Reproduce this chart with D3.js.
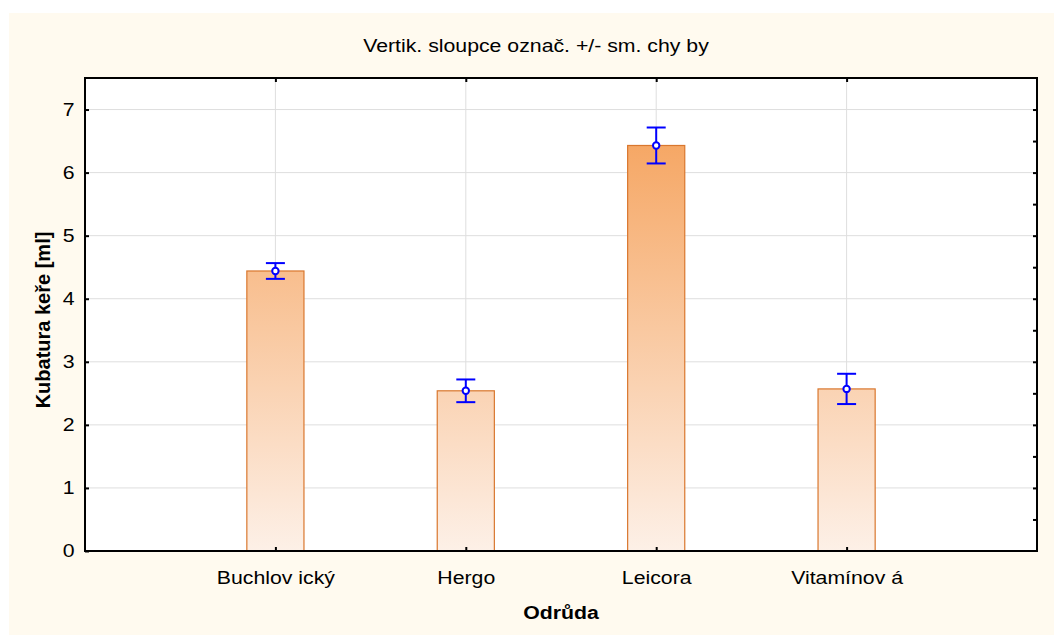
<!DOCTYPE html>
<html>
<head>
<meta charset="utf-8">
<script src="https://cdn.jsdelivr.net/npm/d3@7"></script>
<style>
  body { margin: 0; background: #fff; }
  svg text { font-family: "Liberation Sans", Arial, sans-serif; }
</style>
</head>
<body>
<div id="chart"></div>
<script>
// data
const odrudy = ["Buchlovický", "Hergo", "Leicora", "Vitamínová"];
const tickNames = ["Buchlov ický", "Hergo", "Leicora", "Vitamínov á"];
const prumery = [4.44, 2.54, 6.43, 2.57];
const smChyby = [0.125, 0.18, 0.285, 0.24];
const yTicks = [0, 1, 2, 3, 4, 5, 6, 7];

const W = 1054, H = 635;
const margin = {top: 78, right: 17, bottom: 84, left: 85};
const width = W - margin.left - margin.right,
      height = H - margin.top - margin.bottom;
const fs = 18.5;      // font size
const sx = 1.15;      // text in the original is a bit wider

const svg = d3.select("#chart").append("svg")
    .attr("width", W)
    .attr("height", H);

// panel background
svg.append("rect")
    .attr("x", 9).attr("y", 13)
    .attr("width", W - 9).attr("height", H - 13)
    .attr("fill", "#fffaef");

const defs = svg.append("defs");

const g = svg.append("g")
    .attr("transform", `translate(${margin.left}, ${margin.top})`);

const x = d3.scalePoint()
    .domain(odrudy)
    .range([0, width])
    .padding(1);

const y = d3.scaleLinear()
    .domain([0, 7.5])
    .range([height, 0]);

const barW = x.step() * 0.3;

// gradient fixed to plot coordinates, darker towards the top
const grad = defs.append("linearGradient")
    .attr("id", "barGrad")
    .attr("gradientUnits", "userSpaceOnUse")
    .attr("x1", 0).attr("x2", 0)
    .attr("y1", y(0)).attr("y2", y(7));
grad.append("stop").attr("offset", "0%").attr("stop-color", "#fdf0e7");
grad.append("stop").attr("offset", "100%").attr("stop-color", "#f5a15a");

// plot area
g.append("rect")
    .attr("width", width).attr("height", height)
    .attr("fill", "#ffffff");

// grid
g.append("g")
    .selectAll("line")
    .data(yTicks.slice(1))
    .enter().append("line")
      .attr("x1", 0).attr("x2", width)
      .attr("y1", d => y(d)).attr("y2", d => y(d))
      .attr("stroke", "#dedede").attr("stroke-width", 1);

g.append("g")
    .selectAll("line")
    .data(odrudy)
    .enter().append("line")
      .attr("x1", d => x(d)).attr("x2", d => x(d))
      .attr("y1", 0).attr("y2", height)
      .attr("stroke", "#dedede").attr("stroke-width", 1);

// bars
g.selectAll(".bar")
    .data(odrudy)
    .enter().append("rect")
      .attr("x", d => x(d) - barW / 2)
      .attr("y", (d, i) => y(prumery[i]))
      .attr("width", barW)
      .attr("height", (d, i) => height - y(prumery[i]))
      .attr("fill", "url(#barGrad)")
      .attr("stroke", "#d9772e")
      .attr("stroke-width", 1.2);

// error bars
const eb = g.selectAll(".err")
    .data(odrudy)
    .enter().append("g");

eb.append("line")
    .attr("x1", d => x(d)).attr("x2", d => x(d))
    .attr("y1", (d, i) => y(prumery[i] + smChyby[i]))
    .attr("y2", (d, i) => y(prumery[i] - smChyby[i]))
    .attr("stroke", "#0000ff").attr("stroke-width", 2);

[1, -1].forEach(s => {
  eb.append("line")
      .attr("x1", d => x(d) - 9.5).attr("x2", d => x(d) + 9.5)
      .attr("y1", (d, i) => y(prumery[i] + s * smChyby[i]))
      .attr("y2", (d, i) => y(prumery[i] + s * smChyby[i]))
      .attr("stroke", "#0000ff").attr("stroke-width", 2);
});

eb.append("circle")
    .attr("cx", d => x(d))
    .attr("cy", (d, i) => y(prumery[i]))
    .attr("r", 3.2)
    .attr("fill", "#ffffff")
    .attr("stroke", "#0000ff").attr("stroke-width", 2);

// axes
const axLeft = g.append("g")
    .call(d3.axisLeft(y).tickValues(yTicks).tickSize(-4).tickPadding(9).tickFormat(d3.format("d")));
axLeft.select(".domain").remove();
axLeft.selectAll("line").attr("stroke", "#000").attr("stroke-width", 2);
axLeft.selectAll("text").attr("font-size", fs).attr("fill", "#000")
    .attr("transform", `scale(${sx},1)`);

const axBottom = g.append("g")
    .attr("transform", `translate(0, ${height})`)
    .call(d3.axisBottom(x).tickSize(-4).tickPadding(20).tickFormat((d, i) => tickNames[i]));
axBottom.select(".domain").remove();
axBottom.selectAll("line").attr("stroke", "#000").attr("stroke-width", 2);
axBottom.selectAll("text").attr("font-size", fs).attr("fill", "#000")
    .attr("transform", `scale(${sx},1)`);

const axTop = g.append("g")
    .call(d3.axisTop(x).tickSize(-4).tickFormat(""));
axTop.select(".domain").remove();
axTop.selectAll("line").attr("stroke", "#000").attr("stroke-width", 2);

const axRight = g.append("g")
    .attr("transform", `translate(${width}, 0)`)
    .call(d3.axisRight(y).tickValues(d3.range(0.5, 7.5, 0.5)).tickSize(-4).tickFormat(""));
axRight.select(".domain").remove();
axRight.selectAll("line").attr("stroke", "#000").attr("stroke-width", 2);

// frame
g.append("rect")
    .attr("width", width).attr("height", height)
    .attr("fill", "none")
    .attr("stroke", "#000").attr("stroke-width", 2);

// titles
svg.append("g")
    .attr("transform", `translate(536, 52) scale(${sx},1)`)
  .append("text")
    .attr("text-anchor", "middle")
    .attr("font-size", fs)
    .text("Vertik. sloupce označ. +/- sm. chy by");

svg.append("g")
    .attr("transform", `translate(${margin.left + width / 2}, 619) scale(${sx},1)`)
  .append("text")
    .attr("text-anchor", "middle")
    .attr("font-size", fs).attr("font-weight", "bold")
    .text("Odrůda");

svg.append("text")
    .attr("transform", "translate(50, 320) rotate(-90)")
    .attr("text-anchor", "middle")
    .attr("font-size", 20).attr("font-weight", "bold")
    .text("Kubatura keře [ml]");
</script>
</body>
</html>
